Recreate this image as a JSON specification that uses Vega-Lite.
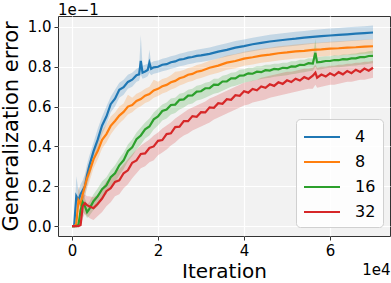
{
"$schema":"https://vega.github.io/schema/vega-lite/v6.json",
"width":332,"height":220,
"autosize":{"type":"none"},
"padding":{"left":58,"top":16,"right":1,"bottom":47},
"background":"white",
"config":{"font":"DejaVu Sans","view":{"fill":"#f2f2f2","stroke":"#333333","strokeWidth":1}},
"title":{"text":"1e\u22121","anchor":"start","frame":"group","fontSize":15,"fontWeight":"normal","color":"black","baseline":"alphabetic","offset":3,"dy":17},
"datasets":{
"d":[
{"s":"4","it":0,"m":0,"lo":0,"hi":0},
{"s":"4","it":500,"m":0,"lo":0,"hi":0.01},
{"s":"4","it":1000,"m":0.15,"lo":0.08,"hi":0.25},
{"s":"4","it":1500,"m":0.13,"lo":0.09,"hi":0.18},
{"s":"4","it":2000,"m":0.16,"lo":0.11,"hi":0.21},
{"s":"4","it":2500,"m":0.18,"lo":0.13,"hi":0.23},
{"s":"4","it":3000,"m":0.2,"lo":0.15,"hi":0.26},
{"s":"4","it":3500,"m":0.255,"lo":0.2,"hi":0.31},
{"s":"4","it":4000,"m":0.3,"lo":0.24,"hi":0.35},
{"s":"4","it":5000,"m":0.375,"lo":0.32,"hi":0.42},
{"s":"4","it":6000,"m":0.435,"lo":0.39,"hi":0.49},
{"s":"4","it":7000,"m":0.505,"lo":0.46,"hi":0.55},
{"s":"4","it":8000,"m":0.55,"lo":0.51,"hi":0.6},
{"s":"4","it":9000,"m":0.612,"lo":0.57,"hi":0.65},
{"s":"4","it":10000,"m":0.64,"lo":0.6,"hi":0.685},
{"s":"4","it":11000,"m":0.684,"lo":0.645,"hi":0.72},
{"s":"4","it":12000,"m":0.697,"lo":0.66,"hi":0.735},
{"s":"4","it":13000,"m":0.724,"lo":0.69,"hi":0.76},
{"s":"4","it":14000,"m":0.735,"lo":0.7,"hi":0.77},
{"s":"4","it":15000,"m":0.758,"lo":0.725,"hi":0.79},
{"s":"4","it":15600,"m":0.762,"lo":0.73,"hi":0.795},
{"s":"4","it":16000,"m":0.83,"lo":0.76,"hi":0.96},
{"s":"4","it":16400,"m":0.77,"lo":0.74,"hi":0.805},
{"s":"4","it":17000,"m":0.776,"lo":0.745,"hi":0.81},
{"s":"4","it":17600,"m":0.784,"lo":0.752,"hi":0.815},
{"s":"4","it":18000,"m":0.82,"lo":0.77,"hi":0.885},
{"s":"4","it":18400,"m":0.79,"lo":0.758,"hi":0.82},
{"s":"4","it":19000,"m":0.797,"lo":0.765,"hi":0.828},
{"s":"4","it":20000,"m":0.8,"lo":0.77,"hi":0.832},
{"s":"4","it":21000,"m":0.81,"lo":0.778,"hi":0.84},
{"s":"4","it":22000,"m":0.813,"lo":0.782,"hi":0.845},
{"s":"4","it":23000,"m":0.823,"lo":0.79,"hi":0.853},
{"s":"4","it":24000,"m":0.827,"lo":0.795,"hi":0.858},
{"s":"4","it":25000,"m":0.836,"lo":0.803,"hi":0.866},
{"s":"4","it":26000,"m":0.839,"lo":0.806,"hi":0.87},
{"s":"4","it":27000,"m":0.846,"lo":0.813,"hi":0.877},
{"s":"4","it":28000,"m":0.849,"lo":0.816,"hi":0.88},
{"s":"4","it":29000,"m":0.855,"lo":0.822,"hi":0.886},
{"s":"4","it":30000,"m":0.857,"lo":0.824,"hi":0.889},
{"s":"4","it":32000,"m":0.865,"lo":0.832,"hi":0.897},
{"s":"4","it":34000,"m":0.876,"lo":0.842,"hi":0.908},
{"s":"4","it":36000,"m":0.885,"lo":0.851,"hi":0.918},
{"s":"4","it":38000,"m":0.896,"lo":0.862,"hi":0.929},
{"s":"4","it":40000,"m":0.904,"lo":0.87,"hi":0.937},
{"s":"4","it":42000,"m":0.913,"lo":0.878,"hi":0.946},
{"s":"4","it":44000,"m":0.92,"lo":0.885,"hi":0.953},
{"s":"4","it":46000,"m":0.927,"lo":0.892,"hi":0.961},
{"s":"4","it":48000,"m":0.932,"lo":0.897,"hi":0.966},
{"s":"4","it":50000,"m":0.937,"lo":0.902,"hi":0.971},
{"s":"4","it":52000,"m":0.941,"lo":0.906,"hi":0.976},
{"s":"4","it":54000,"m":0.946,"lo":0.911,"hi":0.98},
{"s":"4","it":56000,"m":0.95,"lo":0.915,"hi":0.985},
{"s":"4","it":58000,"m":0.954,"lo":0.919,"hi":0.989},
{"s":"4","it":60000,"m":0.957,"lo":0.922,"hi":0.992},
{"s":"4","it":62000,"m":0.96,"lo":0.925,"hi":0.995},
{"s":"4","it":64000,"m":0.963,"lo":0.928,"hi":0.998},
{"s":"4","it":66000,"m":0.966,"lo":0.931,"hi":1.001},
{"s":"4","it":68000,"m":0.969,"lo":0.934,"hi":1.004},
{"s":"4","it":70000,"m":0.972,"lo":0.937,"hi":1.007},
{"s":"8","it":0,"m":0,"lo":0,"hi":0},
{"s":"8","it":500,"m":0,"lo":0,"hi":0},
{"s":"8","it":1000,"m":0.01,"lo":0,"hi":0.04},
{"s":"8","it":1500,"m":0.13,"lo":0.07,"hi":0.2},
{"s":"8","it":2000,"m":0.11,"lo":0.07,"hi":0.16},
{"s":"8","it":2500,"m":0.16,"lo":0.11,"hi":0.21},
{"s":"8","it":3000,"m":0.2,"lo":0.15,"hi":0.25},
{"s":"8","it":3500,"m":0.24,"lo":0.19,"hi":0.29},
{"s":"8","it":4000,"m":0.27,"lo":0.22,"hi":0.32},
{"s":"8","it":5000,"m":0.335,"lo":0.29,"hi":0.38},
{"s":"8","it":6000,"m":0.378,"lo":0.335,"hi":0.425},
{"s":"8","it":7000,"m":0.433,"lo":0.39,"hi":0.48},
{"s":"8","it":8000,"m":0.462,"lo":0.42,"hi":0.51},
{"s":"8","it":9000,"m":0.503,"lo":0.46,"hi":0.55},
{"s":"8","it":10000,"m":0.528,"lo":0.49,"hi":0.57},
{"s":"8","it":11000,"m":0.555,"lo":0.515,"hi":0.6},
{"s":"8","it":12000,"m":0.573,"lo":0.535,"hi":0.615},
{"s":"8","it":13000,"m":0.6,"lo":0.56,"hi":0.66},
{"s":"8","it":14000,"m":0.608,"lo":0.572,"hi":0.645},
{"s":"8","it":15000,"m":0.628,"lo":0.59,"hi":0.665},
{"s":"8","it":16000,"m":0.638,"lo":0.602,"hi":0.675},
{"s":"8","it":17000,"m":0.655,"lo":0.618,"hi":0.69},
{"s":"8","it":18000,"m":0.663,"lo":0.627,"hi":0.7},
{"s":"8","it":19000,"m":0.681,"lo":0.644,"hi":0.735},
{"s":"8","it":20000,"m":0.689,"lo":0.653,"hi":0.725},
{"s":"8","it":21000,"m":0.702,"lo":0.666,"hi":0.738},
{"s":"8","it":22000,"m":0.709,"lo":0.673,"hi":0.745},
{"s":"8","it":23000,"m":0.722,"lo":0.686,"hi":0.757},
{"s":"8","it":24000,"m":0.729,"lo":0.693,"hi":0.775},
{"s":"8","it":25000,"m":0.742,"lo":0.706,"hi":0.777},
{"s":"8","it":26000,"m":0.749,"lo":0.713,"hi":0.784},
{"s":"8","it":27000,"m":0.76,"lo":0.724,"hi":0.794},
{"s":"8","it":28000,"m":0.764,"lo":0.728,"hi":0.799},
{"s":"8","it":29000,"m":0.775,"lo":0.739,"hi":0.809},
{"s":"8","it":30000,"m":0.779,"lo":0.743,"hi":0.814},
{"s":"8","it":32000,"m":0.795,"lo":0.759,"hi":0.83},
{"s":"8","it":34000,"m":0.806,"lo":0.77,"hi":0.841},
{"s":"8","it":36000,"m":0.821,"lo":0.785,"hi":0.856},
{"s":"8","it":38000,"m":0.829,"lo":0.793,"hi":0.864},
{"s":"8","it":40000,"m":0.841,"lo":0.805,"hi":0.876},
{"s":"8","it":42000,"m":0.848,"lo":0.812,"hi":0.883},
{"s":"8","it":44000,"m":0.856,"lo":0.82,"hi":0.891},
{"s":"8","it":46000,"m":0.861,"lo":0.825,"hi":0.896},
{"s":"8","it":48000,"m":0.868,"lo":0.832,"hi":0.903},
{"s":"8","it":50000,"m":0.872,"lo":0.836,"hi":0.907},
{"s":"8","it":52000,"m":0.877,"lo":0.841,"hi":0.912},
{"s":"8","it":54000,"m":0.88,"lo":0.844,"hi":0.915},
{"s":"8","it":56000,"m":0.885,"lo":0.849,"hi":0.92},
{"s":"8","it":58000,"m":0.887,"lo":0.851,"hi":0.922},
{"s":"8","it":60000,"m":0.891,"lo":0.855,"hi":0.926},
{"s":"8","it":62000,"m":0.893,"lo":0.857,"hi":0.928},
{"s":"8","it":64000,"m":0.896,"lo":0.86,"hi":0.931},
{"s":"8","it":66000,"m":0.898,"lo":0.862,"hi":0.933},
{"s":"8","it":68000,"m":0.901,"lo":0.865,"hi":0.936},
{"s":"8","it":70000,"m":0.903,"lo":0.867,"hi":0.938},
{"s":"16","it":0,"m":0,"lo":0,"hi":0},
{"s":"16","it":500,"m":0,"lo":0,"hi":0},
{"s":"16","it":1000,"m":0,"lo":0,"hi":0},
{"s":"16","it":1500,"m":0.005,"lo":0,"hi":0.03},
{"s":"16","it":2000,"m":0.08,"lo":0.03,"hi":0.14},
{"s":"16","it":2500,"m":0.12,"lo":0.07,"hi":0.16},
{"s":"16","it":3000,"m":0.1,"lo":0.06,"hi":0.14},
{"s":"16","it":3500,"m":0.07,"lo":0.04,"hi":0.11},
{"s":"16","it":4000,"m":0.085,"lo":0.05,"hi":0.12},
{"s":"16","it":5000,"m":0.125,"lo":0.08,"hi":0.16},
{"s":"16","it":6000,"m":0.15,"lo":0.1,"hi":0.19},
{"s":"16","it":7000,"m":0.185,"lo":0.14,"hi":0.225},
{"s":"16","it":8000,"m":0.205,"lo":0.16,"hi":0.245},
{"s":"16","it":9000,"m":0.245,"lo":0.2,"hi":0.28},
{"s":"16","it":10000,"m":0.265,"lo":0.22,"hi":0.305},
{"s":"16","it":11000,"m":0.305,"lo":0.255,"hi":0.34},
{"s":"16","it":12000,"m":0.33,"lo":0.285,"hi":0.37},
{"s":"16","it":13000,"m":0.376,"lo":0.325,"hi":0.41},
{"s":"16","it":14000,"m":0.395,"lo":0.35,"hi":0.435},
{"s":"16","it":15000,"m":0.436,"lo":0.385,"hi":0.47},
{"s":"16","it":16000,"m":0.455,"lo":0.41,"hi":0.495},
{"s":"16","it":17000,"m":0.486,"lo":0.44,"hi":0.52},
{"s":"16","it":18000,"m":0.5,"lo":0.455,"hi":0.54},
{"s":"16","it":19000,"m":0.536,"lo":0.485,"hi":0.57},
{"s":"16","it":20000,"m":0.55,"lo":0.505,"hi":0.59},
{"s":"16","it":21000,"m":0.578,"lo":0.53,"hi":0.61},
{"s":"16","it":22000,"m":0.585,"lo":0.54,"hi":0.62},
{"s":"16","it":23000,"m":0.608,"lo":0.56,"hi":0.64},
{"s":"16","it":24000,"m":0.61,"lo":0.568,"hi":0.645},
{"s":"16","it":25000,"m":0.634,"lo":0.585,"hi":0.665},
{"s":"16","it":26000,"m":0.636,"lo":0.595,"hi":0.67},
{"s":"16","it":27000,"m":0.655,"lo":0.61,"hi":0.685},
{"s":"16","it":28000,"m":0.656,"lo":0.615,"hi":0.69},
{"s":"16","it":29000,"m":0.675,"lo":0.63,"hi":0.705},
{"s":"16","it":30000,"m":0.677,"lo":0.635,"hi":0.71},
{"s":"16","it":31000,"m":0.692,"lo":0.645,"hi":0.72},
{"s":"16","it":32000,"m":0.693,"lo":0.655,"hi":0.725},
{"s":"16","it":33000,"m":0.71,"lo":0.665,"hi":0.74},
{"s":"16","it":34000,"m":0.709,"lo":0.67,"hi":0.74},
{"s":"16","it":35000,"m":0.726,"lo":0.68,"hi":0.755},
{"s":"16","it":36000,"m":0.727,"lo":0.69,"hi":0.76},
{"s":"16","it":37000,"m":0.742,"lo":0.7,"hi":0.77},
{"s":"16","it":38000,"m":0.742,"lo":0.705,"hi":0.772},
{"s":"16","it":39000,"m":0.756,"lo":0.712,"hi":0.785},
{"s":"16","it":40000,"m":0.757,"lo":0.72,"hi":0.788},
{"s":"16","it":41000,"m":0.767,"lo":0.725,"hi":0.795},
{"s":"16","it":42000,"m":0.765,"lo":0.728,"hi":0.795},
{"s":"16","it":43000,"m":0.775,"lo":0.735,"hi":0.803},
{"s":"16","it":44000,"m":0.773,"lo":0.738,"hi":0.802},
{"s":"16","it":45000,"m":0.783,"lo":0.742,"hi":0.81},
{"s":"16","it":46000,"m":0.781,"lo":0.745,"hi":0.81},
{"s":"16","it":47000,"m":0.789,"lo":0.75,"hi":0.815},
{"s":"16","it":48000,"m":0.787,"lo":0.752,"hi":0.815},
{"s":"16","it":49000,"m":0.795,"lo":0.755,"hi":0.82},
{"s":"16","it":50000,"m":0.793,"lo":0.758,"hi":0.82},
{"s":"16","it":51000,"m":0.802,"lo":0.762,"hi":0.828},
{"s":"16","it":52000,"m":0.801,"lo":0.765,"hi":0.828},
{"s":"16","it":53000,"m":0.81,"lo":0.77,"hi":0.835},
{"s":"16","it":54000,"m":0.809,"lo":0.773,"hi":0.835},
{"s":"16","it":55000,"m":0.818,"lo":0.778,"hi":0.843},
{"s":"16","it":56000,"m":0.816,"lo":0.78,"hi":0.842},
{"s":"16","it":56600,"m":0.87,"lo":0.8,"hi":0.94},
{"s":"16","it":57000,"m":0.822,"lo":0.785,"hi":0.848},
{"s":"16","it":58000,"m":0.825,"lo":0.788,"hi":0.85},
{"s":"16","it":59000,"m":0.829,"lo":0.792,"hi":0.853},
{"s":"16","it":60000,"m":0.829,"lo":0.795,"hi":0.853},
{"s":"16","it":61000,"m":0.834,"lo":0.797,"hi":0.858},
{"s":"16","it":62000,"m":0.833,"lo":0.798,"hi":0.857},
{"s":"16","it":63000,"m":0.838,"lo":0.8,"hi":0.862},
{"s":"16","it":64000,"m":0.837,"lo":0.802,"hi":0.861},
{"s":"16","it":65000,"m":0.842,"lo":0.805,"hi":0.866},
{"s":"16","it":66000,"m":0.842,"lo":0.807,"hi":0.867},
{"s":"16","it":67000,"m":0.848,"lo":0.81,"hi":0.872},
{"s":"16","it":68000,"m":0.848,"lo":0.812,"hi":0.873},
{"s":"16","it":69000,"m":0.854,"lo":0.815,"hi":0.878},
{"s":"16","it":70000,"m":0.855,"lo":0.818,"hi":0.88},
{"s":"32","it":0,"m":0,"lo":0,"hi":0},
{"s":"32","it":500,"m":0,"lo":0,"hi":0},
{"s":"32","it":1000,"m":0,"lo":0,"hi":0},
{"s":"32","it":1500,"m":0,"lo":0,"hi":0},
{"s":"32","it":2000,"m":0.005,"lo":0,"hi":0.03},
{"s":"32","it":2500,"m":0.1,"lo":0.04,"hi":0.15},
{"s":"32","it":3000,"m":0.115,"lo":0.06,"hi":0.16},
{"s":"32","it":3500,"m":0.105,"lo":0.05,"hi":0.15},
{"s":"32","it":4000,"m":0.1,"lo":0.04,"hi":0.15},
{"s":"32","it":5000,"m":0.09,"lo":0.03,"hi":0.145},
{"s":"32","it":6000,"m":0.112,"lo":0.05,"hi":0.16},
{"s":"32","it":7000,"m":0.138,"lo":0.07,"hi":0.19},
{"s":"32","it":8000,"m":0.175,"lo":0.1,"hi":0.225},
{"s":"32","it":9000,"m":0.19,"lo":0.12,"hi":0.24},
{"s":"32","it":10000,"m":0.222,"lo":0.15,"hi":0.27},
{"s":"32","it":11000,"m":0.23,"lo":0.16,"hi":0.285},
{"s":"32","it":12000,"m":0.265,"lo":0.19,"hi":0.31},
{"s":"32","it":13000,"m":0.28,"lo":0.21,"hi":0.335},
{"s":"32","it":14000,"m":0.318,"lo":0.24,"hi":0.36},
{"s":"32","it":15000,"m":0.33,"lo":0.265,"hi":0.385},
{"s":"32","it":16000,"m":0.362,"lo":0.29,"hi":0.405},
{"s":"32","it":17000,"m":0.365,"lo":0.3,"hi":0.42},
{"s":"32","it":18000,"m":0.392,"lo":0.32,"hi":0.435},
{"s":"32","it":19000,"m":0.4,"lo":0.33,"hi":0.455},
{"s":"32","it":20000,"m":0.428,"lo":0.355,"hi":0.47},
{"s":"32","it":21000,"m":0.432,"lo":0.37,"hi":0.49},
{"s":"32","it":22000,"m":0.462,"lo":0.385,"hi":0.505},
{"s":"32","it":23000,"m":0.466,"lo":0.405,"hi":0.52},
{"s":"32","it":24000,"m":0.497,"lo":0.42,"hi":0.54},
{"s":"32","it":25000,"m":0.499,"lo":0.44,"hi":0.555},
{"s":"32","it":26000,"m":0.527,"lo":0.455,"hi":0.57},
{"s":"32","it":27000,"m":0.527,"lo":0.465,"hi":0.585},
{"s":"32","it":28000,"m":0.552,"lo":0.48,"hi":0.595},
{"s":"32","it":29000,"m":0.549,"lo":0.49,"hi":0.605},
{"s":"32","it":30000,"m":0.572,"lo":0.5,"hi":0.615},
{"s":"32","it":31000,"m":0.571,"lo":0.51,"hi":0.625},
{"s":"32","it":32000,"m":0.596,"lo":0.52,"hi":0.64},
{"s":"32","it":33000,"m":0.594,"lo":0.535,"hi":0.65},
{"s":"32","it":34000,"m":0.617,"lo":0.545,"hi":0.66},
{"s":"32","it":35000,"m":0.614,"lo":0.555,"hi":0.67},
{"s":"32","it":36000,"m":0.637,"lo":0.565,"hi":0.68},
{"s":"32","it":37000,"m":0.634,"lo":0.575,"hi":0.69},
{"s":"32","it":38000,"m":0.657,"lo":0.585,"hi":0.7},
{"s":"32","it":39000,"m":0.654,"lo":0.595,"hi":0.71},
{"s":"32","it":40000,"m":0.677,"lo":0.605,"hi":0.72},
{"s":"32","it":41000,"m":0.67,"lo":0.61,"hi":0.725},
{"s":"32","it":42000,"m":0.689,"lo":0.62,"hi":0.73},
{"s":"32","it":43000,"m":0.682,"lo":0.625,"hi":0.735},
{"s":"32","it":44000,"m":0.701,"lo":0.63,"hi":0.745},
{"s":"32","it":45000,"m":0.694,"lo":0.635,"hi":0.75},
{"s":"32","it":46000,"m":0.712,"lo":0.645,"hi":0.755},
{"s":"32","it":47000,"m":0.704,"lo":0.65,"hi":0.76},
{"s":"32","it":48000,"m":0.722,"lo":0.655,"hi":0.765},
{"s":"32","it":49000,"m":0.714,"lo":0.66,"hi":0.77},
{"s":"32","it":50000,"m":0.732,"lo":0.665,"hi":0.775},
{"s":"32","it":51000,"m":0.723,"lo":0.67,"hi":0.775},
{"s":"32","it":52000,"m":0.74,"lo":0.675,"hi":0.78},
{"s":"32","it":53000,"m":0.731,"lo":0.68,"hi":0.785},
{"s":"32","it":54000,"m":0.748,"lo":0.685,"hi":0.79},
{"s":"32","it":55000,"m":0.739,"lo":0.69,"hi":0.79},
{"s":"32","it":56000,"m":0.755,"lo":0.69,"hi":0.795},
{"s":"32","it":56600,"m":0.77,"lo":0.71,"hi":0.81},
{"s":"32","it":57000,"m":0.745,"lo":0.695,"hi":0.795},
{"s":"32","it":58000,"m":0.761,"lo":0.7,"hi":0.8},
{"s":"32","it":59000,"m":0.751,"lo":0.705,"hi":0.8},
{"s":"32","it":60000,"m":0.767,"lo":0.71,"hi":0.805},
{"s":"32","it":61000,"m":0.756,"lo":0.71,"hi":0.805},
{"s":"32","it":62000,"m":0.773,"lo":0.715,"hi":0.81},
{"s":"32","it":63000,"m":0.762,"lo":0.72,"hi":0.81},
{"s":"32","it":64000,"m":0.779,"lo":0.725,"hi":0.815},
{"s":"32","it":65000,"m":0.768,"lo":0.725,"hi":0.815},
{"s":"32","it":66000,"m":0.785,"lo":0.73,"hi":0.82},
{"s":"32","it":67000,"m":0.774,"lo":0.735,"hi":0.82},
{"s":"32","it":68000,"m":0.791,"lo":0.735,"hi":0.825},
{"s":"32","it":69000,"m":0.78,"lo":0.74,"hi":0.825},
{"s":"32","it":70000,"m":0.795,"lo":0.745,"hi":0.83}
]},
"data":{"name":"d"},
"layer":[
{"mark":{"type":"area","opacity":0.22},
 "encoding":{
  "x":{"field":"it","type":"quantitative","scale":{"domain":[-3256,73950],"nice":false,"zero":false},
       "axis":{"values":[0,20000,40000,60000],"labelExpr":"datum.value/10000","grid":true,"gridColor":"white","gridWidth":1.2,"domain":false,"ticks":true,"tickColor":"#333333","tickSize":4,"labelFontSize":15,"labelColor":"black","labelPadding":3,"title":"Iteration","titleFontSize":20,"titleFontWeight":"normal","titleColor":"black","titlePadding":3}},
  "y":{"field":"lo","type":"quantitative","scale":{"domain":[-0.05,1.055],"nice":false,"zero":false},"title":"Generalization error",
       "axis":{"values":[0,0.2,0.4,0.6,0.8,1.0],"format":".1f","grid":true,"gridColor":"white","gridWidth":1.2,"domain":false,"tickColor":"#333333","tickSize":4,"labelFontSize":15,"labelColor":"black","labelPadding":3,"titleFontSize":21,"titleFontWeight":"normal","titleColor":"black","titlePadding":6}},
  "y2":{"field":"hi"},
  "color":{"field":"s","type":"nominal","scale":{"domain":["4","8","16","32"],"range":["#1f77b4","#ff7f0e","#2ca02c","#d62728"]},
    "legend":{"title":null,"orient":"none","legendX":238,"legendY":103,"symbolType":"M-1.8,0H1.8","symbolSize":400,"symbolOffset":8,"symbolStrokeWidth":2,"symbolOpacity":1,"labelFontSize":16,"labelColor":"black","labelOffset":22,"padding":7,"fillColor":"rgba(255,255,255,0.8)","strokeColor":"#d0d0d0","cornerRadius":4,"rowPadding":6}}
 }},
{"mark":{"type":"line","strokeWidth":2.2},
 "encoding":{
  "x":{"field":"it","type":"quantitative","axis":{"orient":"bottom","title":"1e4","labels":false,"ticks":false,"domain":false,"grid":false,"titleAnchor":"end","titleFontSize":15,"titleFontWeight":"normal","titleColor":"black","titlePadding":26}},
  "y":{"field":"m","type":"quantitative","title":"Generalization error",
       "axis":{"values":[0,0.2,0.4,0.6,0.8,1.0],"format":".1f","grid":true,"gridColor":"white","gridWidth":1.2,"domain":false,"tickColor":"#333333","tickSize":4,"labelFontSize":15,"labelColor":"black","labelPadding":3,"titleFontSize":21,"titleFontWeight":"normal","titleColor":"black","titlePadding":6}},
  "color":{"field":"s","type":"nominal","scale":{"domain":["4","8","16","32"],"range":["#1f77b4","#ff7f0e","#2ca02c","#d62728"]},
    "legend":{"title":null,"orient":"none","legendX":238,"legendY":103,"symbolType":"M-1.8,0H1.8","symbolSize":400,"symbolOffset":8,"symbolStrokeWidth":2,"symbolOpacity":1,"labelFontSize":16,"labelColor":"black","labelOffset":22,"padding":7,"fillColor":"rgba(255,255,255,0.8)","strokeColor":"#d0d0d0","cornerRadius":4,"rowPadding":6}}
 }}
],
"resolve":{"axis":{"x":"independent"}}
}
